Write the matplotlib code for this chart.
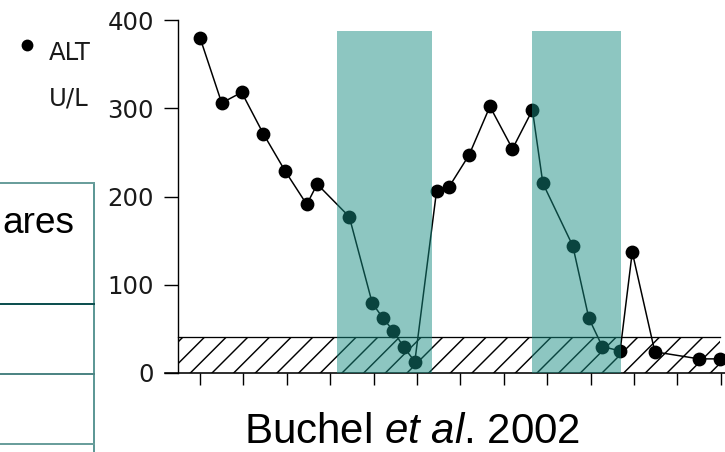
import numpy as np
import matplotlib.pyplot as plt
from matplotlib.lines import Line2D

# ALT time course (x in tick units, y in U/L)
days = [0.0, 0.5, 0.96, 1.46, 1.96, 2.46, 2.7, 3.44, 3.97, 4.22, 4.45, 4.7, 4.95,
        5.45, 5.74, 6.2, 6.68, 7.2, 7.66, 7.9, 8.59, 8.96, 9.27, 9.68, 9.96,
        10.48, 11.5, 11.98]
alt = [380, 306, 318, 271, 229, 191, 214, 177, 79, 62, 48, 29, 13,
       206, 211, 247, 302, 254, 298, 215, 144, 62, 30, 25, 137,
       24, 16, 16]
normal_upper = 41
treatments = [(3.15, 5.35), (7.65, 9.69)]
treat_top = 388
y_ticks = [0, 100, 200, 300, 400]
x_ticks = list(range(13))

W, H, DPI = 725, 452, 130
PT = 72 / DPI  # points per pixel

plt.rcParams['hatch.linewidth'] = 0.8
plt.rcParams['mathtext.fontset'] = 'custom'
plt.rcParams['mathtext.rm'] = 'Liberation Sans'
plt.rcParams['mathtext.it'] = 'Liberation Sans:italic'

fig = plt.figure(figsize=(W / DPI, H / DPI), dpi=DPI)


def fx(px):
    return px / W


def fy(py):
    return 1 - py / H


ax = fig.add_axes([fx(165), fy(373), (725 - 165) / W, (373 - 20) / H])
ax.set_xlim((165 - 200) / 43.4, (725 - 200) / 43.4)
ax.set_ylim(0, 400)
x_axis = (178 - 200) / 43.4

for s in ['top', 'right']:
    ax.spines[s].set_visible(False)
ax.spines['left'].set_position(('data', x_axis))
ax.spines['left'].set_bounds(0, 400)
ax.spines['left'].set_linewidth(1.4 * PT)
ax.spines['bottom'].set_linewidth(1.6 * PT)

ax.set_yticks(y_ticks)
ax.set_yticklabels([str(v) for v in y_ticks], fontsize=13.5, color='#1a1a1a',
                   family='DejaVu Sans')
ax.tick_params(axis='y', direction='out', length=14 * PT, width=1.4 * PT, pad=10 * PT)
ax.set_xticks(x_ticks)
ax.set_xticklabels([])
ax.tick_params(axis='x', direction='out', length=12 * PT, width=1.4 * PT)

# normal range band
ax.fill_between([x_axis, days[-1]], 0, normal_upper, facecolor='none',
                edgecolor='black', hatch='//', linewidth=0, zorder=1)
ax.plot([x_axis, days[-1]], [normal_upper, normal_upper], color='black',
        lw=1.3 * PT, zorder=1)

ax.plot(days, alt, color='black', lw=1.5 * PT, marker='o', markersize=12 * PT,
        zorder=3)

teal = (22 / 255, 140 / 255, 130 / 255)
for a, b in treatments:
    ax.fill_between([a, b], 0, treat_top, color=teal, alpha=0.49, lw=0, zorder=4)

# legend
fig.add_artist(Line2D([fx(27)], [fy(45)], marker='o', color='black',
                      markersize=10 * PT, linestyle='none'))
fig.text(fx(49), fy(53), 'ALT', fontsize=13.5, family='DejaVu Sans',
         color='#1a1a1a', va='center', ha='left')
fig.text(fx(49), fy(98), 'U/L', fontsize=13.5, family='DejaVu Sans',
         color='#1a1a1a', va='center', ha='left')

# partial table on the left
fig.add_artist(Line2D([fx(94), fx(94)], [fy(183), fy(452)], color='#5e9896', lw=2 * PT))
fig.add_artist(Line2D([0, fx(94)], [fy(183), fy(183)], color='#6a9e9c', lw=2 * PT))
fig.add_artist(Line2D([0, fx(94)], [fy(304), fy(304)], color='#0e5050', lw=2 * PT))
fig.add_artist(Line2D([0, fx(94)], [fy(374), fy(374)], color='#4e8584', lw=2 * PT))
fig.add_artist(Line2D([0, fx(94)], [fy(444), fy(444)], color='#6a9e9c', lw=2 * PT))
fig.text(fx(2), fy(233), 'ares', fontsize=37 * PT, family='Liberation Sans',
         color='black', va='baseline', ha='left')

fig.text(fx(412), fy(443), r'Buchel $\mathit{et\ al}$. 2002', fontsize=42 * PT,
         family='Liberation Sans', color='black', va='baseline', ha='center')

fig.savefig('out.png', dpi=DPI)
